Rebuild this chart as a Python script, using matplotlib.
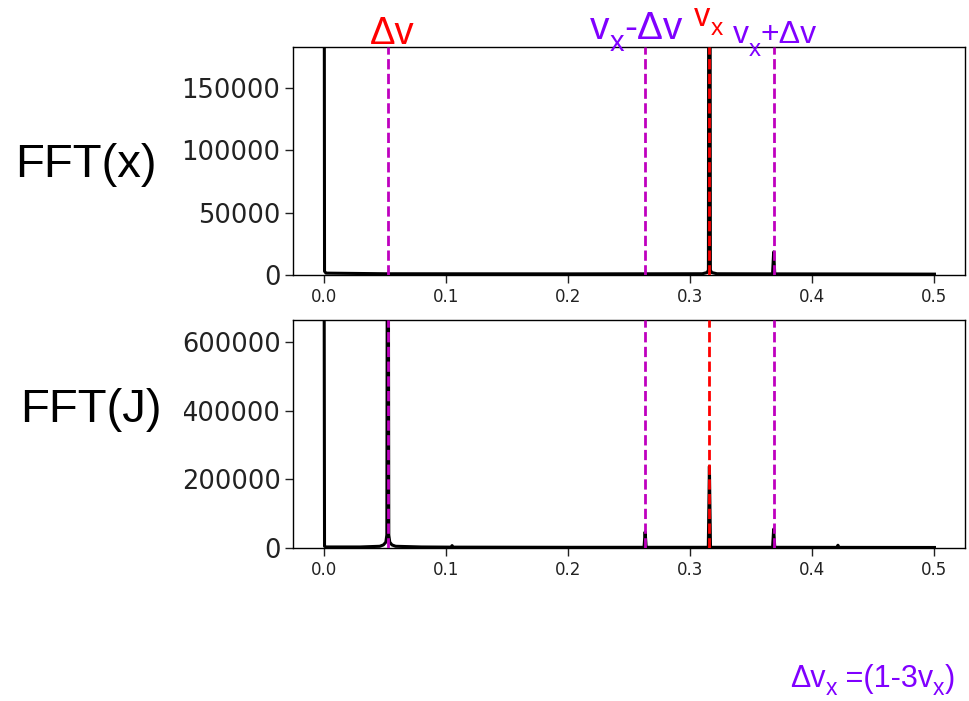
import matplotlib
matplotlib.use('Agg')
import matplotlib.pyplot as plt
from matplotlib.patches import Rectangle

# tunes
nu_x = 0.3158
dnu = 0.0526

# |FFT| of the position signal x
fx_freq = [0.0, 0.0008, 0.002, 0.05, 0.2, 0.31, 0.3140, 0.3150, 0.3158, 0.3166,
           0.3176, 0.322, 0.3675, 0.3684, 0.3693, 0.45, 0.5]
fx_amp = [900000, 3000, 1500, 1000, 900, 1000, 2000, 4000, 900000, 4000,
          2000, 1000, 900, 18500, 900, 800, 700]

# |FFT| of the action J
fj_freq = [0.0, 0.0008, 0.002, 0.03, 0.046, 0.049, 0.0510, 0.0518, 0.0526, 0.0534,
           0.0542, 0.056, 0.059, 0.08, 0.1043, 0.1052, 0.1061, 0.2, 0.2623, 0.2632,
           0.2641, 0.3149, 0.3158, 0.3167, 0.3675, 0.3684, 0.3693, 0.4201, 0.4210,
           0.4219, 0.5]
fj_amp = [2000000, 5000, 3000, 3000, 5000, 9000, 17000, 38000, 2000000, 38000,
          17000, 9000, 5000, 3000, 2500, 7000, 2500, 2000, 2000, 47000,
          2000, 2000, 238000, 2000, 2000, 55000, 2000, 1800, 8000,
          1800, 1500]

xticks = [0.0, 0.1, 0.2, 0.3, 0.4, 0.5]
yticks_x = [0, 50000, 100000, 150000]
yticks_j = [0, 200000, 400000, 600000]

W, H = 969, 701
fig = plt.figure(figsize=(W / 100, H / 100), dpi=100)

ax1 = fig.add_axes([293 / W, 1 - 275 / H, 672 / W, 228 / H])
ax2 = fig.add_axes([293 / W, 1 - 548 / H, 672 / W, 228 / H])

panels = [(ax1, fx_freq, fx_amp, yticks_x, 183000),
          (ax2, fj_freq, fj_amp, yticks_j, 664000)]
for ax, f, a, yt, ytop in panels:
    ax.plot(f, a, 'k', lw=2.2, zorder=2)
    ax.axvline(dnu, color='m', ls='--', lw=2, zorder=3)
    ax.axvline(nu_x - dnu, color='m', ls='--', lw=2, zorder=3)
    ax.axvline(nu_x + dnu, color='m', ls='--', lw=2, zorder=3)
    ax.axvline(nu_x, color='r', ls='--', lw=2, zorder=3)
    ax.set_xlim(-0.025, 0.525)
    ax.set_ylim(0, ytop)
    ax.set_xticks(xticks)
    ax.set_xticklabels([f'{v:.1f}' for v in xticks])
    ax.set_yticks(yt)
    ax.set_yticklabels([str(v) for v in yt])
    ax.tick_params(axis='x', labelsize=12, length=6, width=1, colors='#222222')
    ax.tick_params(axis='y', labelsize=18.5, length=6, width=1, pad=3,
                   colors='#222222')
    for s in ax.spines.values():
        s.set_linewidth(1)

# the left strip of the plot is cut off
fig.patches.append(Rectangle((0, 0), 184 / W, 1, transform=fig.transFigure,
                             facecolor='white', edgecolor='none', zorder=1))

renderer = fig.canvas.get_renderer()
red = '#ff0000'
purple = '#8000ff'


def rich(x, y, parts, size, color, drop):
    # pieces are (text, subscript?) set left to right from x, baseline y (pixels)
    for s, sub in parts:
        fs = size * 0.75 if sub else size
        yy = y + drop if sub else y
        t = fig.text(x / W, 1 - yy / H, s, fontsize=fs, color=color,
                     family='Liberation Sans', va='baseline', ha='left', zorder=5)
        x += t.get_window_extent(renderer).width


rich(370, 44, [('Δv', False)], 27.5, red, 0)
rich(590, 39, [('v', False), ('x', True), ('-Δv', False)], 28, purple, 12)
rich(694, 26, [('v', False), ('x', True)], 23.5, red, 9)
rich(733, 43, [('v', False), ('x', True), ('+Δv', False)], 23, purple, 13)
rich(790, 687, [('Δv', False), ('x', True), (' =(1-3v', False), ('x', True), (')', False)],
     22, purple, 8)

fig.text(15 / W, 1 - 177 / H, 'FFT(x)', fontsize=34, family='Liberation Sans',
         va='baseline', ha='left', zorder=5)
fig.text(20 / W, 1 - 422 / H, 'FFT(J)', fontsize=34, family='Liberation Sans',
         va='baseline', ha='left', zorder=5)

fig.savefig('out.png', dpi=100)
